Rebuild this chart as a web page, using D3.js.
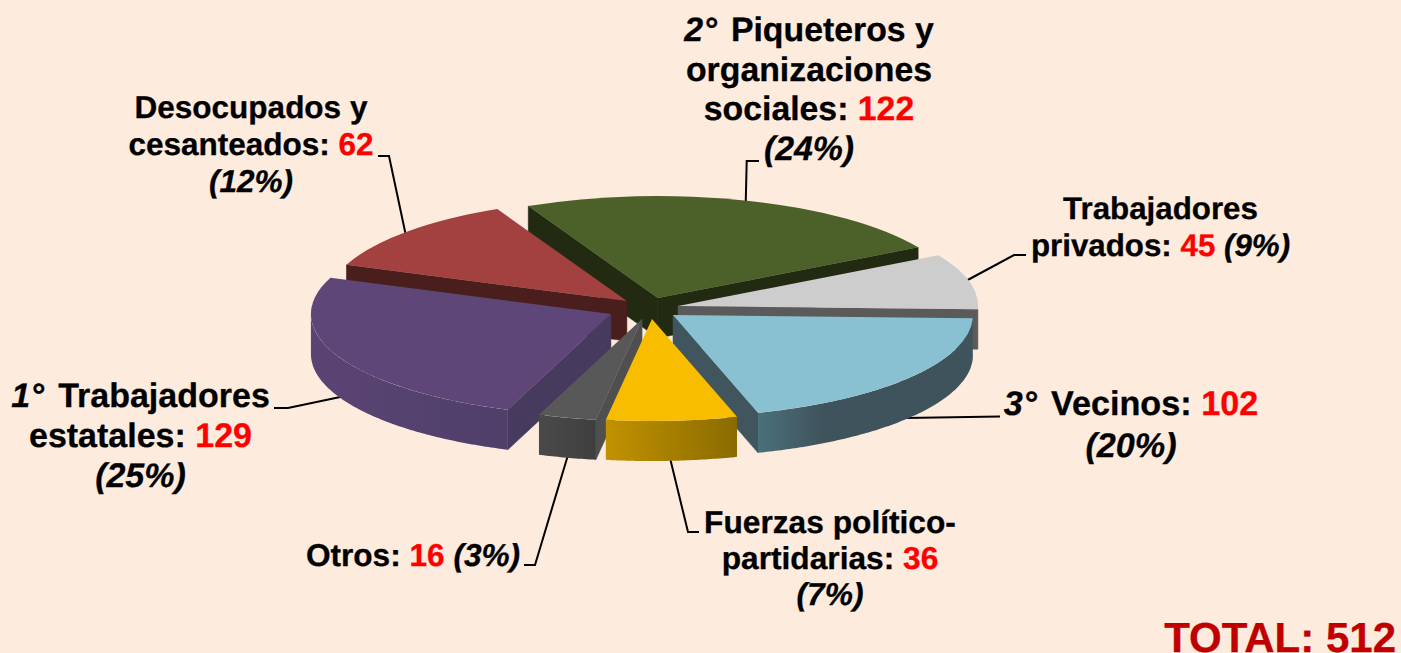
<!DOCTYPE html>
<html lang="es">
<head>
<meta charset="utf-8">
<style>
html,body{margin:0;padding:0;background:#fdebdd;}
svg{display:block;}
text{font-family:"Liberation Sans",Arial,sans-serif;font-weight:bold;fill:#000;stroke:#000;stroke-width:0.3px;text-rendering:geometricPrecision;}
</style>
<script src="https://cdn.jsdelivr.net/npm/d3@7/dist/d3.min.js"></script>
</head>
<body>
<svg id="chart" width="1401" height="653"></svg>
<script>
// ---- data ----
const categories = ["Piqueteros","Trabajadores privados","Vecinos","Fuerzas político-partidarias","Otros","Trabajadores estatales","Desocupados y cesanteados"];
const values = [122,45,102,36,16,129,62];
const percents = ["24%","9%","20%","7%","3%","25%","12%"];
const ranks = ["2","","3","","","1",""];
const totalLabel = "TOTAL: 512";
const labelLines = [
  ["{r} Piqueteros y","organizaciones","sociales: {v}","{p}"],
  ["Trabajadores","privados: {v} {p}"],
  ["{r} Vecinos: {v}","{p}"],
  ["Fuerzas político-","partidarias: {v}","{p}"],
  ["Otros: {v} {p}"],
  ["{r} Trabajadores","estatales: {v}","{p}"],
  ["Desocupados y","cesanteados: {v}","{p}"]
];

// ---- style & layout ----
const W = 1401, H = 653;
const cx = 645, cy = 309.5, radius = 300, squash = 0.34, depth = 40;
const startDeg = -25.6;
const explodeDistance = [36,34.6,32.3,28.9,28,36.5,30.8];
const explodeBearing  = [21,72.7,120,166,186,249,324];
const topColors   = ["#4c6029","#cdcdcd","#89c1d2","#f9bd00","#585858","#5e4778","#a34140"];
const wallColors  = ["#222a12","#5a5a5a","#41555e","#8f6f00","#4f4f4f","#463a5e","#4a1e1c"];
const outerFrom   = ["#222a12","#5a5a5a","#4b707b","#c29200","#4a4a4a","#5b4474","#4a1e1c"];
const outerTo     = ["#222a12","#5a5a5a","#3f535c","#8a6b00","#3f3f3f","#4f3f69","#4a1e1c"];
const paintOrder  = [0,6,1,5,2,4,3];
const labelX      = [809,1160.5,1131,830,413,140.5,251];
const labelFirstY = [41,218.5,415,533,566,407,118];
const labelStep   = [39.6,37,42,36,0,40,37];
const labelSize   = [33.8,31.3,34.2,31.7,31.6,34,31.5];
const leaders = [
  [[745.7,204],[746.7,161],[759,161]],
  [[964,282],[1014,255],[1026,255]],
  [[905,418],[1000,416.5]],
  [[670,458],[688,532],[699,532]],
  [[568,455],[535,565],[524,565]],
  [[345,396],[288,408],[274,408]],
  [[406,236],[389,156],[378,156]]
];

// ---- drawing ----
const svg = d3.select("#chart");
const defs = svg.append("defs");
const rad = d => d * Math.PI / 180;
const pie = d3.pie().sort(null).startAngle(rad(startDeg)).endAngle(rad(startDeg + 360));
const arcs = pie(values);
const arcGen = d3.arc().innerRadius(0).outerRadius(radius);
const px = a => radius * Math.sin(a);
const py = a => -radius * squash * Math.cos(a);
const line = d3.line();

// leader lines sit below the slices
svg.append("g").selectAll("path").data(leaders).join("path")
  .attr("d", d => line(d)).attr("fill","none").attr("stroke","#000").attr("stroke-width",2);

const g = svg.append("g");
paintOrder.forEach(i => {
  const a = arcs[i];
  const b = rad(explodeBearing[i]);
  const ox = cx + explodeDistance[i] * Math.sin(b);
  const oy = cy - explodeDistance[i] * squash * Math.cos(b);
  const sl = g.append("g").attr("transform", `translate(${ox},${oy})`);

  // radial faces that look toward the viewer
  const radial = t => line([[0,0],[px(t),py(t)],[px(t),py(t)+depth],[0,depth]])+"Z";
  if (Math.sin(a.startAngle) < 0) {
    sl.append("path").attr("fill", wallColors[i]).attr("stroke", wallColors[i]).attr("stroke-width",0.5).attr("d", radial(a.startAngle));
  }
  if (Math.sin(a.endAngle) > 0) {
    sl.append("path").attr("fill", wallColors[i]).attr("stroke", wallColors[i]).attr("stroke-width",0.5).attr("d", radial(a.endAngle));
  }

  // outer rim, front half only
  const from = Math.max(a.startAngle, Math.PI/2), to = Math.min(a.endAngle, 3*Math.PI/2);
  if (to > from) {
    const ts = d3.range(from, to, 0.01).concat([to]);
    const upper = ts.map(t => [px(t), py(t)]);
    const lower = ts.slice().reverse().map(t => [px(t), py(t)+depth]);
    const id = "rim"+i;
    const lg = defs.append("linearGradient").attr("id",id).attr("x1",0).attr("x2",1).attr("y1",0).attr("y2",0);
    lg.append("stop").attr("offset",0).attr("stop-color",outerFrom[i]);
    lg.append("stop").attr("offset",i===2?0.3:1).attr("stop-color",outerTo[i]);
    sl.append("path").attr("fill",`url(#${id})`).attr("d", line(upper.concat(lower))+"Z");
  }

  // top face
  sl.append("path").attr("fill", topColors[i]).attr("transform",`scale(1,${squash})`).attr("d", arcGen(a));
});

// labels
const lab = svg.append("g").attr("text-anchor","middle");
categories.forEach((c,i) => {
  const t = lab.append("text").attr("font-size",labelSize[i]).attr("data-category",c);
  labelLines[i].forEach((ln,k) => {
    const y = labelFirstY[i] + k*labelStep[i];
    const holder = t.append("tspan").attr("x",labelX[i]).attr("y",y);
    ln.split(/(\{[rvp]\})/).filter(s => s.length).forEach(tok => {
      if (tok==="{r}") {
        holder.append("tspan").attr("font-style","italic").text(ranks[i]);
        holder.append("tspan").attr("dx",2).text("°").style("letter-spacing","3px");
      } else if (tok==="{v}") {
        holder.append("tspan").style("fill","#ff0000").style("stroke","#ff0000").text(values[i]);
      } else if (tok==="{p}") {
        holder.append("tspan").attr("font-style","italic").text("("+percents[i]+")");
      } else {
        holder.append("tspan").style("white-space","pre").text(tok);
      }
    });
  });
});

svg.append("text").attr("x",1396).attr("y",652).attr("text-anchor","end")
  .attr("font-size",42).style("fill","#c00000").style("stroke","#c00000").text(totalLabel);
</script>
</body>
</html>
